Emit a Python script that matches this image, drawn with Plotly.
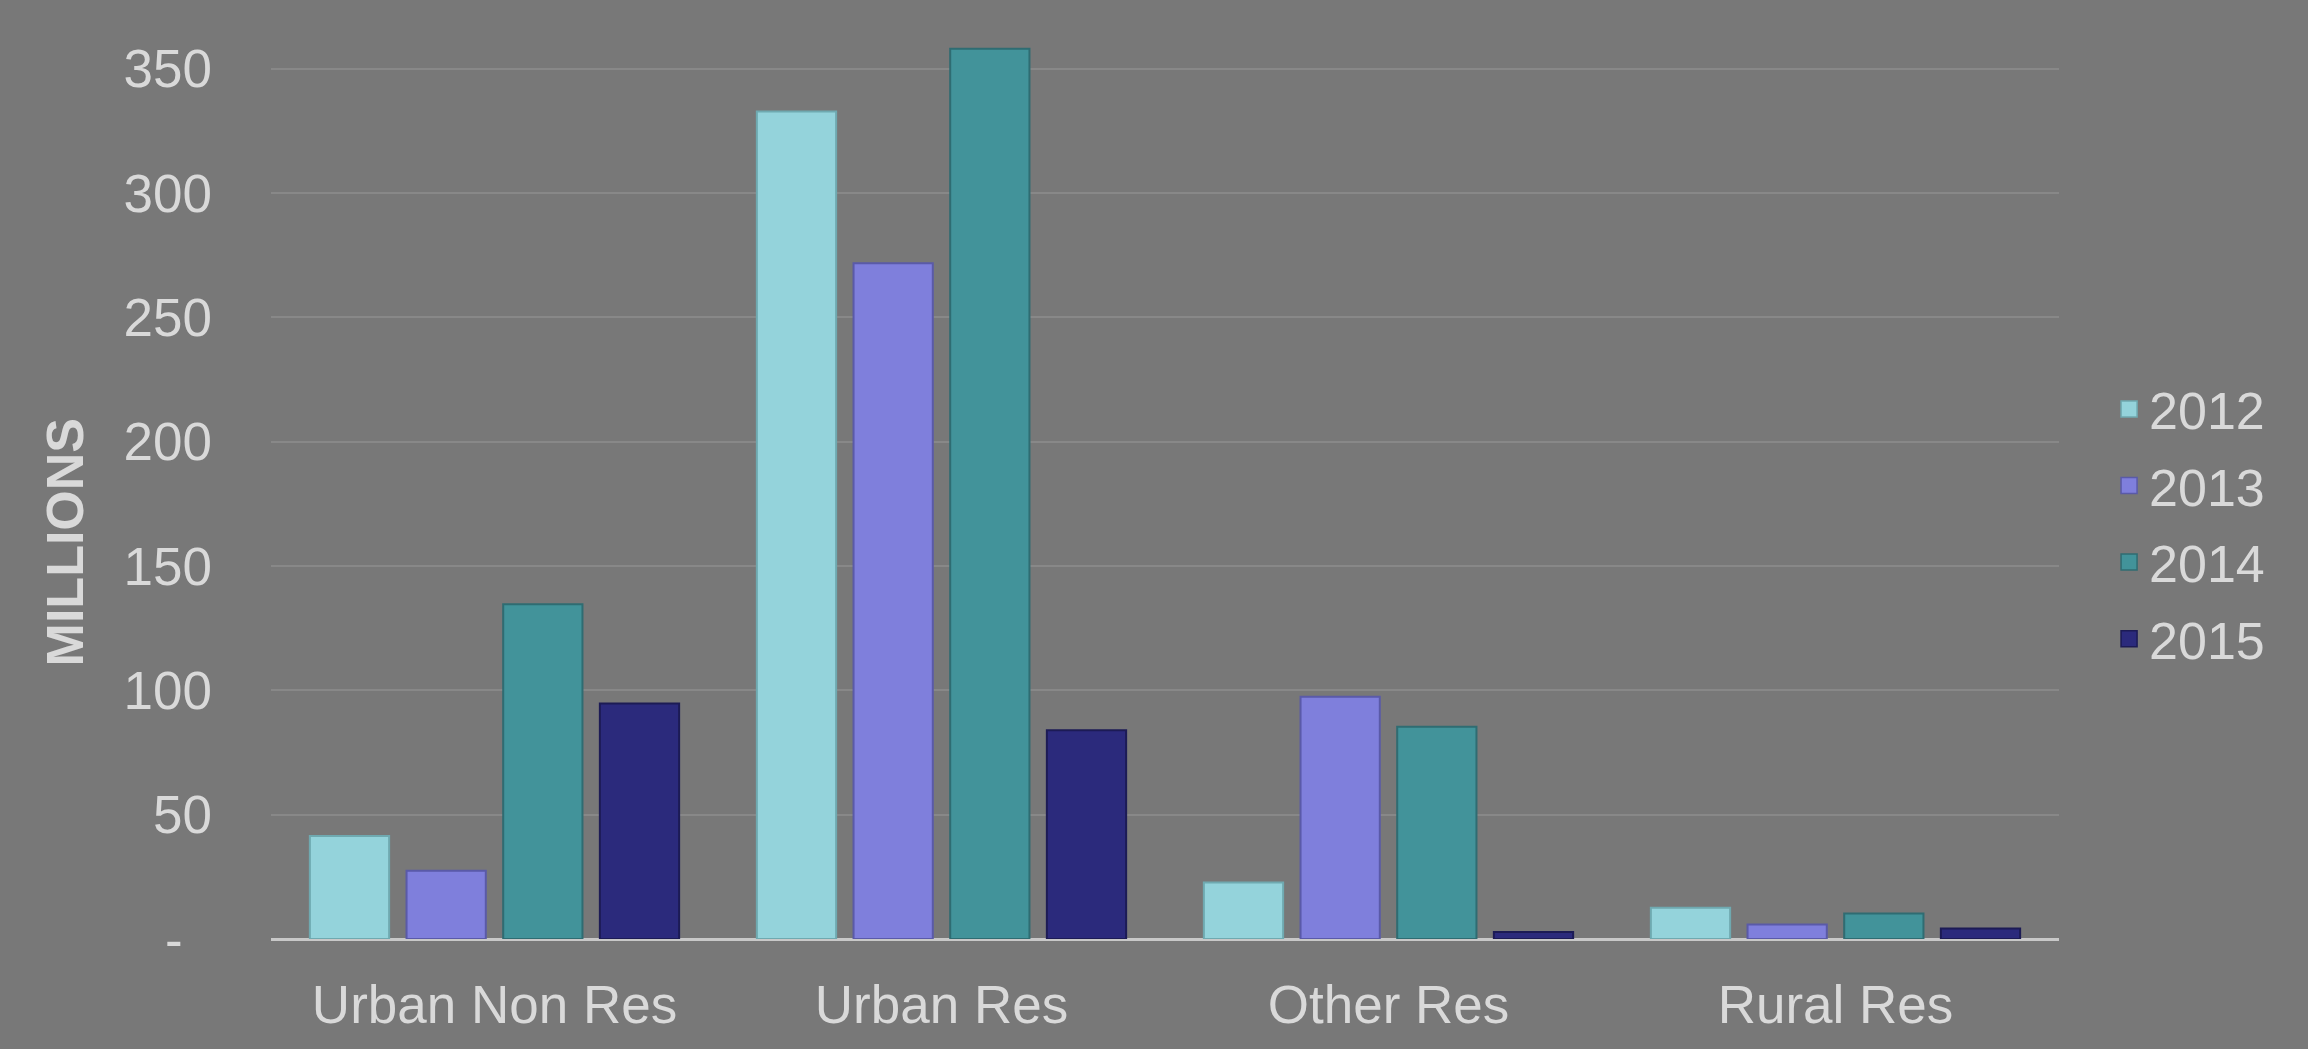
import plotly.graph_objects as go

categories = ["Urban Non Res", "Urban Res", "Other Res", "Rural Res"]
years = ["2012", "2013", "2014", "2015"]
v2012 = [41.4, 332.8, 22.7, 12.6]
v2013 = [27.4, 271.8, 97.4, 5.8]
v2014 = [134.6, 358.0, 85.4, 10.3]
v2015 = [94.7, 84.0, 2.8, 4.2]
series = [v2012, v2013, v2014, v2015]

tick_vals = [0, 50, 100, 150, 200, 250, 300, 350]
tick_text = ["-\u00a0\u00a0", "50", "100", "150", "200", "250", "300", "350"]

fills = ["#94d3db", "#7f7fdc", "#42939a", "#2b2a7c"]
edges = ["#6fa9b0", "#5a5aa8", "#2f6c72", "#1c1b55"]

fig = go.Figure()
for name, vals, fc, ec in zip(years, series, fills, edges):
    fig.add_trace(go.Bar(
        name=name, x=categories, y=vals, showlegend=False,
        marker=dict(color=fc, line=dict(color=ec, width=2)),
    ))
# legend entries with larger square swatches
for name, fc, ec in zip(years, fills, edges):
    fig.add_trace(go.Scatter(
        name=name, x=[None], y=[None], mode="markers", legendgroup=name,
        marker=dict(symbol="square", size=16, color=fc, line=dict(color=ec, width=1.5)),
    ))

font_family = "Liberation Sans, Arial, sans-serif"
txt = "#d9d9d9"
bg = "#787878"

fig.update_layout(
    width=2308, height=1049,
    paper_bgcolor=bg, plot_bgcolor=bg,
    barmode="group", bargap=0.135, bargroupgap=0.18,
    margin=dict(l=271, r=249, t=19, b=110),
    font=dict(family=font_family, color=txt, size=53),
    showlegend=True,
    legend=dict(
        x=1.028, y=0.451, xanchor="left", yanchor="middle",
        font=dict(size=52, color=txt), bgcolor="rgba(0,0,0,0)",
        itemwidth=30, tracegroupgap=6, itemsizing="trace",
    ),
    xaxis=dict(
        showgrid=False, showline=False, zeroline=False,
        tickfont=dict(size=53, color=txt), ticks="",
        ticklabelstandoff=30,
    ),
    yaxis=dict(
        range=[0, 370], tickvals=tick_vals, ticktext=tick_text,
        showgrid=True, gridcolor="#888888", gridwidth=1.5,
        zeroline=True, zerolinecolor="#c8c8c8", zerolinewidth=3,
        showline=False, ticks="",
        tickfont=dict(size=53, color=txt),
        ticklabelstandoff=58,
    ),
    annotations=[dict(
        text="<b>MILLIONS</b>", xref="paper", yref="paper",
        x=-0.115, y=0.4315, xanchor="center", yanchor="middle",
        textangle=-90, showarrow=False,
        font=dict(size=52, color=txt, family=font_family),
    )],
)

fig.write_html("out.html")
